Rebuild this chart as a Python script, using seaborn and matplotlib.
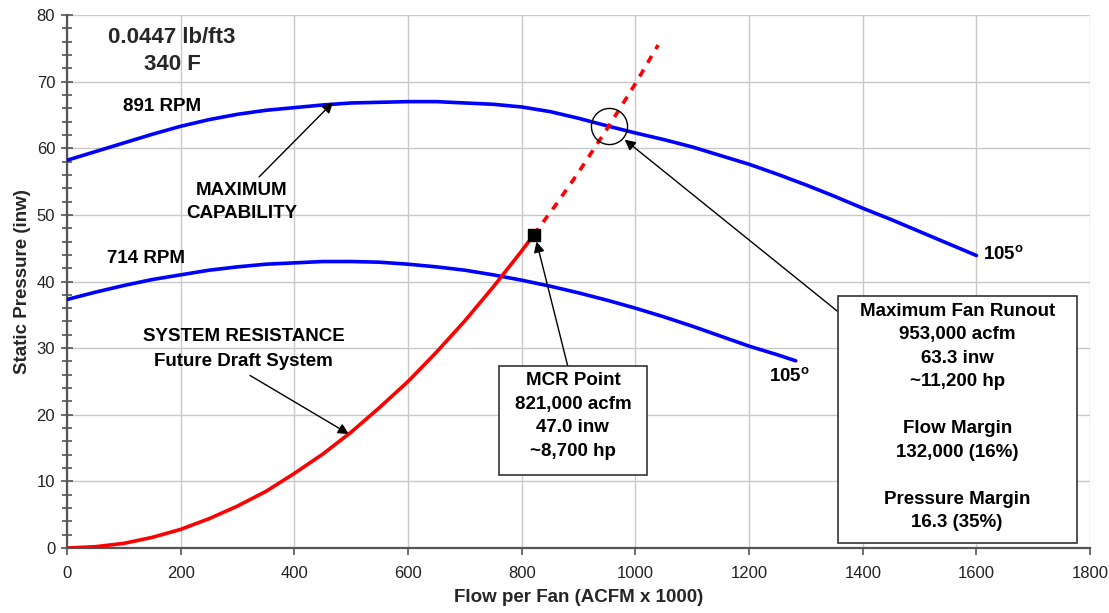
import matplotlib
matplotlib.use("Agg")
import matplotlib.pyplot as plt
from matplotlib.patches import Rectangle
import numpy as np
import pandas as pd
import seaborn as sns

# curve data
flow_891 = [0, 50, 100, 150, 200, 250, 300, 350, 400, 450, 500, 550, 600, 650, 700, 750, 800, 850,
            900, 953, 1000, 1050, 1100, 1150, 1200, 1250, 1300, 1350, 1400, 1450, 1500, 1550, 1600]
sp_891 = [58.2, 59.5, 60.8, 62.1, 63.3, 64.3, 65.1, 65.7, 66.1, 66.5, 66.8, 66.9, 67.0, 67.0, 66.8,
          66.6, 66.2, 65.5, 64.5, 63.3, 62.3, 61.3, 60.2, 58.9, 57.6, 56.1, 54.5, 52.8, 51.0, 49.3,
          47.5, 45.7, 43.9]

flow_714 = [0, 50, 100, 150, 200, 250, 300, 350, 400, 450, 500, 550, 600, 650, 700, 750, 800, 850,
            900, 950, 1000, 1050, 1100, 1150, 1200, 1250, 1282]
sp_714 = [37.3, 38.4, 39.4, 40.3, 41.0, 41.7, 42.2, 42.6, 42.8, 43.0, 43.0, 42.9, 42.6, 42.2, 41.7,
          41.0, 40.2, 39.3, 38.3, 37.2, 36.0, 34.7, 33.3, 31.8, 30.3, 29.0, 28.1]

flow_sys = [0, 50, 100, 150, 200, 250, 300, 350, 400, 450, 500, 550, 600, 650, 700, 750, 800, 821]
sp_sys = [0.0, 0.2, 0.7, 1.6, 2.8, 4.4, 6.3, 8.5, 11.2, 14.1, 17.4, 21.1, 25.0, 29.4, 34.1, 39.2, 44.6, 47.0]

flow_ext = [821, 860, 900, 953, 1000, 1040]
sp_ext = [47.0, 51.5, 56.4, 63.3, 69.7, 75.5]

mcr_point = (821, 47.0)
runout_point = (953, 63.3)

sns.set_theme(style="whitegrid")
plt.rcParams['font.family'] = ['Liberation Sans', 'DejaVu Sans']
plt.rcParams['mathtext.fontset'] = 'custom'
plt.rcParams['mathtext.rm'] = 'Liberation Sans'
plt.rcParams['mathtext.bf'] = 'Liberation Sans:bold'

fig = plt.figure(figsize=(11.09, 6.13), dpi=100)
ax = fig.add_axes([0.0604, 0.106, 0.9226, 0.8695])

df891 = pd.DataFrame({'flow': flow_891, 'sp': sp_891})
df714 = pd.DataFrame({'flow': flow_714, 'sp': sp_714})
dfsys = pd.DataFrame({'flow': flow_sys, 'sp': sp_sys})
dfext = pd.DataFrame({'flow': flow_ext, 'sp': sp_ext})

blue = '#0000FF'
red = '#FF0000'
sns.lineplot(data=df891, x='flow', y='sp', color=blue, linewidth=2.6, sort=False, ax=ax, zorder=3)
sns.lineplot(data=df714, x='flow', y='sp', color=blue, linewidth=2.6, sort=False, ax=ax, zorder=3)
sns.lineplot(data=dfsys, x='flow', y='sp', color=red, linewidth=2.6, sort=False, ax=ax, zorder=4)
sns.lineplot(data=dfext, x='flow', y='sp', color=red, linewidth=2.6, sort=False, ax=ax, zorder=4,
             linestyle=(0, (2.2, 2.2)))

ax.plot([mcr_point[0]], [mcr_point[1]], marker='s', markersize=9, color='black', zorder=5)
ax.plot([runout_point[0]], [runout_point[1]], marker='o', markersize=26, mfc='none',
        mec='black', mew=1.0, zorder=5)

# axes
ax.set_xlim(0, 1800)
ax.set_ylim(0, 80)
ax.set_xticks(np.arange(0, 1801, 200))
ax.set_yticks(np.arange(0, 81, 10))
ax.set_yticks(np.arange(0, 81, 2), minor=True)
ax.grid(True, which='major', color='#c8c8c8', linewidth=1.0)
ax.grid(False, which='minor')
ax.set_facecolor('white')
for s in ['top', 'right']:
    ax.spines[s].set_visible(False)
for s in ['left', 'bottom']:
    ax.spines[s].set_visible(True)
    ax.spines[s].set_color('#555555')
    ax.spines[s].set_linewidth(1.6)
ax.tick_params(axis='x', which='major', direction='out', length=5, width=1.2, color='#555555',
               labelsize=12, labelcolor='#222222', pad=8, bottom=True)
ax.tick_params(axis='y', which='major', direction='inout', length=9, width=1.2, color='#555555',
               labelsize=12, labelcolor='#222222', pad=4, left=True)
ax.tick_params(axis='y', which='minor', direction='inout', length=7, width=1.2, color='#555555', left=True)

ax.set_xlabel('Flow per Fan (ACFM x 1000)', fontsize=13.5, fontweight='bold', labelpad=6)
ax.set_ylabel('Static Pressure (inw)', fontsize=13.5, fontweight='bold', labelpad=4)

# text labels
bold = dict(fontsize=13.5, fontweight='bold', color='black')
ax.text(185, 74.6, '0.0447 lb/ft3\n340 F', ha='center', va='center', fontsize=16,
        fontweight='bold', linespacing=1.4)
ax.text(167, 66.2, '891 RPM', ha='center', va='center', **bold)
ax.text(139, 43.5, '714 RPM', ha='center', va='center', **bold)
ax.text(1611, 44.0, r'105$^{\mathbf{o}}$', ha='left', va='center', **bold)
ax.text(1235, 25.7, r'105$^{\mathbf{o}}$', ha='left', va='center', **bold)

arrow = dict(arrowstyle='-|>', color='black', lw=1.0, mutation_scale=16, shrinkA=0, shrinkB=0)
ax.annotate('', xy=(468, 66.9), xytext=(338, 55.7), arrowprops=arrow)
ax.text(308, 51.9, 'MAXIMUM\nCAPABILITY', ha='center', va='center', linespacing=1.45, **bold)

ax.annotate('', xy=(496, 17.1), xytext=(322, 25.9), arrowprops=arrow)
ax.text(311, 29.85, 'SYSTEM RESISTANCE\nFuture Draft System', ha='center', va='center',
        linespacing=1.65, **bold)

# MCR box
ax.annotate('', xy=(826, 46.0), xytext=(881, 27.3), arrowprops=arrow, zorder=6)
ax.add_patch(Rectangle((760, 11.0), 260, 16.3, fc='white', ec='#333333', lw=1.2, zorder=7))
ax.text(890, 19.8, 'MCR Point\n821,000 acfm\n47.0 inw\n~8,700 hp', ha='center', va='center',
        linespacing=1.5, zorder=8, **bold)

# runout box
ax.annotate('', xy=(981, 61.3), xytext=(1356, 35.5), arrowprops=arrow, zorder=6)
ax.add_patch(Rectangle((1356, 0.75), 421, 37.05, fc='white', ec='#333333', lw=1.2, zorder=7))
ax.text(1566, 19.7, 'Maximum Fan Runout\n953,000 acfm\n63.3 inw\n~11,200 hp\n\nFlow Margin\n'
        '132,000 (16%)\n\nPressure Margin\n16.3 (35%)', ha='center', va='center',
        linespacing=1.5, zorder=8, **bold)

fig.savefig('out.png', dpi=100)
